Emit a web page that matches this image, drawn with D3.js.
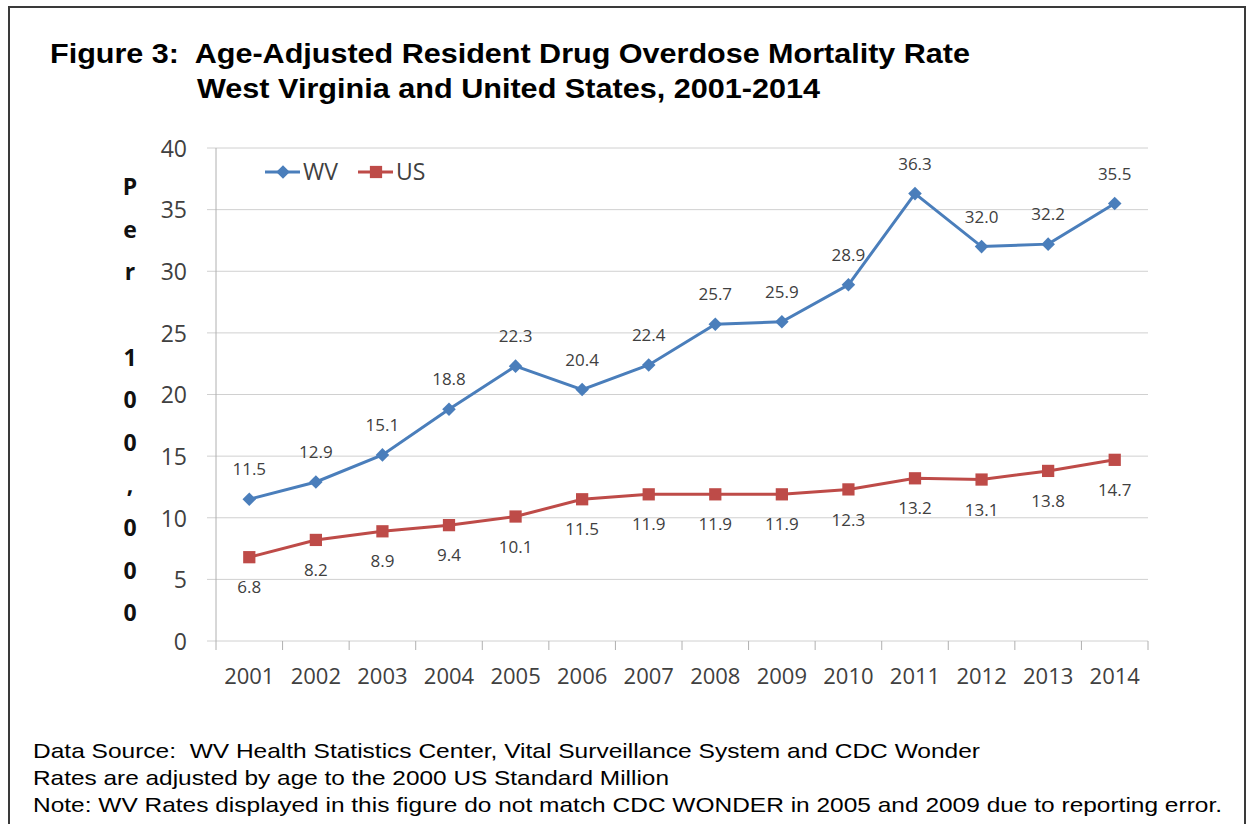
<!DOCTYPE html>
<html>
<head>
    <meta charset="UTF-8" />
    <title>WV Drug Overdose Mortality</title>
    <script src="https://d3js.org/d3.v7.min.js"></script>
    <style>
        body { margin: 0; background: #fff; }
        .grid line { stroke: #d0d0d0; stroke-width: 1px; }
        .tick-label { font-family: "Open Sans", sans-serif; fill: #404040; }
        .data-label { font-family: "Open Sans", sans-serif; font-size: 17px; fill: #404040; }
        .title { font-family: "Liberation Sans", Arial, sans-serif; font-weight: bold; font-size: 28px; fill: #000; }
        .note { font-family: "Liberation Sans Narrow", "Liberation Sans", Arial, sans-serif; font-size: 21px; fill: #000; }
    </style>
</head>
<body>
    <svg id="chart" width="1249" height="824"></svg>

    <script>
        // chart data
        var years = ['2001', '2002', '2003', '2004', '2005', '2006', '2007',
            '2008', '2009', '2010', '2011', '2012', '2013', '2014'];
        var wvRates = [11.5, 12.9, 15.1, 18.8, 22.3, 20.4, 22.4, 25.7, 25.9, 28.9, 36.3, 32.0, 32.2, 35.5];
        var usRates = [6.8, 8.2, 8.9, 9.4, 10.1, 11.5, 11.9, 11.9, 11.9, 12.3, 13.2, 13.1, 13.8, 14.7];
        var yTicks = [0, 5, 10, 15, 20, 25, 30, 35, 40];
        var seriesNames = ['WV', 'US'];

        function drawChart() {
            var svg = d3.select('#chart');

            // frame around the figure
            svg.append('rect')
                .attr('x', 9).attr('y', 7)
                .attr('width', 1236).attr('height', 840)
                .attr('fill', 'none')
                .attr('stroke', '#3a3a3a')
                .attr('stroke-width', 2);

            // title
            svg.append('text').attr('class', 'title')
                .attr('x', 50).attr('y', 63)
                .attr('textLength', 920).attr('lengthAdjust', 'spacingAndGlyphs')
                .style('white-space', 'pre')
                .text('Figure 3:  Age-Adjusted Resident Drug Overdose Mortality Rate');
            svg.append('text').attr('class', 'title')
                .attr('x', 197).attr('y', 98)
                .attr('textLength', 623).attr('lengthAdjust', 'spacingAndGlyphs')
                .text('West Virginia and United States, 2001-2014');

            var plotLeft = 216, plotRight = 1148, plotTop = 148, plotBottom = 641;

            var x = d3.scaleBand().domain(years).range([plotLeft, plotRight]).padding(0);
            var y = d3.scaleLinear().domain([0, 40]).range([plotBottom, plotTop]);

            // gridlines
            svg.append('g').attr('class', 'grid')
                .selectAll('line')
                .data(yTicks)
                .enter()
                .append('line')
                .attr('x1', plotLeft - 9).attr('x2', plotRight)
                .attr('y1', function (d) { return y(d); })
                .attr('y2', function (d) { return y(d); });

            // y axis line
            svg.append('line')
                .attr('x1', plotLeft).attr('x2', plotLeft)
                .attr('y1', plotTop).attr('y2', plotBottom)
                .attr('stroke', '#b0b0b0').attr('stroke-width', 1);

            // x tick marks between categories
            var edges = years.map(function (d) { return x(d); }).concat([plotRight]);
            svg.append('g')
                .selectAll('line')
                .data(edges)
                .enter()
                .append('line')
                .attr('x1', function (d) { return d; })
                .attr('x2', function (d) { return d; })
                .attr('y1', plotBottom).attr('y2', plotBottom + 9)
                .attr('stroke', '#b0b0b0').attr('stroke-width', 1);

            // y tick labels
            var yAxis = svg.append('g')
                .attr('transform', 'translate(' + plotLeft + ',0)')
                .call(d3.axisLeft(y).tickValues(yTicks).tickSize(0).tickPadding(29));
            yAxis.select('.domain').remove();
            yAxis.selectAll('text')
                .attr('class', 'tick-label')
                .style('font-size', '23px')
                .attr('dy', '0.36em');

            // x tick labels
            var xAxis = svg.append('g')
                .attr('transform', 'translate(0,' + plotBottom + ')')
                .call(d3.axisBottom(x).tickSize(0).tickPadding(27));
            xAxis.select('.domain').remove();
            xAxis.selectAll('text')
                .attr('class', 'tick-label')
                .style('font-size', '22px');

            // vertical axis title, one letter per row
            var yTitle = 'Per 100,000'.split('');
            svg.append('g')
                .selectAll('text')
                .data(yTitle)
                .enter()
                .append('text')
                .attr('x', 130)
                .attr('y', function (d, i) { return 187 + i * 42.6; })
                .attr('dy', '0.36em')
                .attr('text-anchor', 'middle')
                .style('font-family', '"Open Sans", sans-serif')
                .style('font-weight', 'bold')
                .style('font-size', '23px')
                .style('fill', '#111')
                .text(function (d) { return d; });

            var cx = function (d, i) { return x(years[i]) + x.bandwidth() / 2; };
            var line = d3.line()
                .x(cx)
                .y(function (d) { return y(d); });

            var diamond = d3.symbol().type(d3.symbolSquare).size(92);
            var square = d3.symbol().type(d3.symbolSquare).size(150);

            var series = [
                { name: seriesNames[0], values: wvRates, color: '#4a7ebb', marker: diamond, rotate: 45, dy: -30 },
                { name: seriesNames[1], values: usRates, color: '#be4b48', marker: square, rotate: 0, dy: 30 }
            ];

            series.forEach(function (s) {
                svg.append('path')
                    .datum(s.values)
                    .attr('d', line)
                    .attr('fill', 'none')
                    .attr('stroke', s.color)
                    .attr('stroke-width', 3);

                svg.append('g')
                    .selectAll('path')
                    .data(s.values)
                    .enter()
                    .append('path')
                    .attr('d', s.marker)
                    .attr('fill', s.color)
                    .attr('transform', function (d, i) {
                        return 'translate(' + cx(d, i) + ',' + y(d) + ') rotate(' + s.rotate + ')';
                    });

                svg.append('g')
                    .selectAll('text')
                    .data(s.values)
                    .enter()
                    .append('text')
                    .attr('class', 'data-label')
                    .attr('x', cx)
                    .attr('y', function (d) { return y(d) + s.dy; })
                    .attr('dy', '0.36em')
                    .attr('text-anchor', 'middle')
                    .text(function (d) { return d.toFixed(1); });
            });

            // legend
            var legend = svg.append('g');
            var legendX = [265, 358];
            series.forEach(function (s, i) {
                var lx = legendX[i];
                legend.append('line')
                    .attr('x1', lx).attr('x2', lx + 35)
                    .attr('y1', 172).attr('y2', 172)
                    .attr('stroke', s.color).attr('stroke-width', 3);
                legend.append('path')
                    .attr('d', s.marker)
                    .attr('fill', s.color)
                    .attr('transform', 'translate(' + (lx + 18) + ',172) rotate(' + s.rotate + ')');
                legend.append('text')
                    .attr('x', lx + 38).attr('y', 172)
                    .attr('dy', '0.36em')
                    .style('font-family', '"Open Sans", sans-serif')
                    .style('font-size', '23px')
                    .style('fill', '#404040')
                    .text(s.name);
            });

            // notes
            var notes = [
                'Data Source:  WV Health Statistics Center, Vital Surveillance System and CDC Wonder',
                'Rates are adjusted by age to the 2000 US Standard Million',
                'Note: WV Rates displayed in this figure do not match CDC WONDER in 2005 and 2009 due to reporting error.'
            ];
            var noteWidths = [947, 636, 1189];
            svg.append('g')
                .selectAll('text')
                .data(notes)
                .enter()
                .append('text')
                .attr('class', 'note')
                .attr('x', 33)
                .attr('y', function (d, i) { return 758 + i * 27; })
                .attr('textLength', function (d, i) { return noteWidths[i]; })
                .attr('lengthAdjust', 'spacingAndGlyphs')
                .style('white-space', 'pre')
                .text(function (d) { return d; });
        }

        drawChart();
    </script>
</body>
</html>
